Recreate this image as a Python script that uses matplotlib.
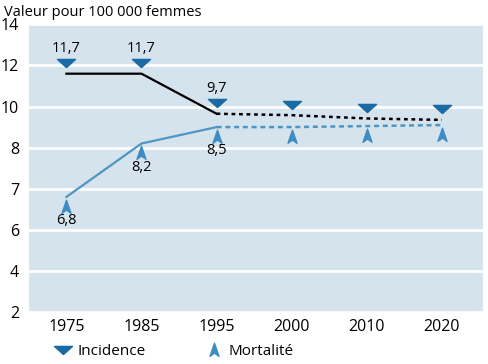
import numpy as np
import matplotlib
matplotlib.use('Agg')
import matplotlib.pyplot as plt
from matplotlib.path import Path
from matplotlib.lines import Line2D
from matplotlib.transforms import ScaledTranslation

# donnees
annees = ['1975', '1985', '1995', '2000', '2010', '2020']
incidence = [11.6, 11.6, 9.65, 9.58, 9.42, 9.35]
mortalite = [6.8, 8.2, 9.0, 9.0, 9.05, 9.1]
etiq_incidence = ['11,7', '11,7', '9,7']
etiq_mortalite = ['6,8', '8,2', '8,5']
y_ticks = [2, 4, 6, 7, 8, 10, 12, 14]

plt.rcParams['font.family'] = ['Open Sans', 'DejaVu Sans']

bleu_fonce = '#1a6aa6'
bleu_clair = '#3f8cc4'
ligne_mort = '#5094c4'
fond = '#d5e3ed'

# echelle de l'axe y : graduations regulierement espacees
pos = np.arange(len(y_ticks))
def fwd(v):
    return np.interp(v, y_ticks, pos)
def inv(p):
    return np.interp(p, pos, y_ticks)

# formes des marqueurs
tri_bas = Path([(-1, 0.45), (1, 0.45), (0, -0.45), (-1, 0.45)],
               [Path.MOVETO, Path.LINETO, Path.LINETO, Path.CLOSEPOLY])
fleche_haut = Path([(0, 1), (0.62, -0.8), (0, -0.35), (-0.62, -0.8), (0, 1)],
                   [Path.MOVETO, Path.LINETO, Path.LINETO, Path.LINETO, Path.CLOSEPOLY])

fig = plt.figure(figsize=(4.89, 3.64), dpi=100)
ax = fig.add_axes([0.059, 0.143, 0.929, 0.79])
ax.set_yscale('function', functions=(fwd, inv))
ax.set_facecolor(fond)
for s in ax.spines.values():
    s.set_visible(False)

x = np.arange(len(annees))

# lignes : trait plein jusqu'a 1995, pointille ensuite
ax.plot(x[:3], incidence[:3], color='black', lw=1.6, zorder=3)
ax.plot(x[2:], incidence[2:], color='black', lw=1.8, ls=(0, (1.5, 1.5)), zorder=3)
ax.plot(x[:3], mortalite[:3], color=ligne_mort, lw=1.6, zorder=3)
ax.plot(x[2:], mortalite[2:], color=ligne_mort, lw=1.8, ls=(0, (2, 1.5)), zorder=3)

haut = ax.transData + ScaledTranslation(0, 7.5 / 72, fig.dpi_scale_trans)
bas = ax.transData + ScaledTranslation(0, -7 / 72, fig.dpi_scale_trans)
ax.plot(x, incidence, ls='none', marker=tri_bas, ms=13, color=bleu_fonce,
        transform=haut, zorder=4)
ax.plot(x, mortalite, ls='none', marker=fleche_haut, ms=10.5, color=bleu_clair,
        transform=bas, zorder=4)

for i, t in enumerate(etiq_incidence):
    ax.annotate(t, (x[i], incidence[i]), xytext=(0, 18), textcoords='offset points',
                ha='center', va='center', fontsize=10.5)
for i, t in enumerate(etiq_mortalite):
    ax.annotate(t, (x[i], mortalite[i]), xytext=(0, -17), textcoords='offset points',
                ha='center', va='center', fontsize=10.5)

ax.set_xlim(-0.5, 5.55)
ax.set_ylim(2, 14.1)
ax.set_xticks(x)
ax.set_xticklabels(annees, fontsize=11.5)
ax.set_yticks(y_ticks)
ax.set_yticklabels([str(v) for v in y_ticks], fontsize=11.5)
ax.tick_params(length=0, pad=5)
ax.tick_params(axis='y', pad=7)
ax.grid(axis='y', color='white', lw=2)
ax.set_axisbelow(True)

fig.text(0.008, 0.967, 'Valeur pour 100 000 femmes', fontsize=10.5, va='center', ha='left')

poignees = [Line2D([], [], ls='none', marker=tri_bas, ms=13, color=bleu_fonce),
            Line2D([], [], ls='none', marker=fleche_haut, ms=10.5, color=bleu_clair)]
fig.legend(poignees, ['Incidence', 'Mortalité'], loc='center left',
           bbox_to_anchor=(0.086, 0.033), ncol=2, frameon=False, fontsize=11,
           handlelength=1.0, handletextpad=0.45, columnspacing=3.95)

fig.savefig('out.png', dpi=100)
